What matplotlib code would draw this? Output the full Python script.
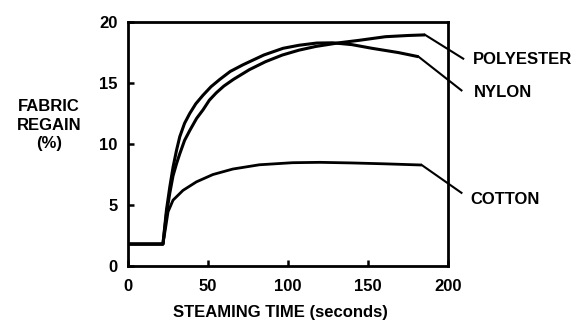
import matplotlib
matplotlib.use("Agg")
import matplotlib.pyplot as plt

plt.rcParams['font.family'] = ['Liberation Sans', 'DejaVu Sans']
plt.rcParams['font.size'] = 12
plt.rcParams['font.weight'] = 'bold'

# steaming time (s) and fabric regain (%)
polyester_t = [0, 22, 24.2, 26.3, 28.3, 30.5, 32.5, 35.5, 38.7, 43, 47, 51, 55.3, 60, 66, 76, 86,
               96.6, 107, 117.4, 131.9, 144.3, 160.9, 175, 185.7]
polyester = [1.8, 1.8, 4.3, 6.0, 7.4, 8.4, 9.2, 10.3, 11.1, 12.1, 12.8, 13.6, 14.2, 14.75, 15.3, 16.1, 16.75,
             17.3, 17.7, 18.0, 18.3, 18.5, 18.8, 18.9, 18.95]

nylon_t = [0, 22, 24.2, 26.3, 28.3, 30.5, 32.5, 35.5, 38.7, 42.5, 47, 52, 57.5, 64, 72, 85,
           97, 107, 118, 128, 140, 152.5, 169, 181.6]
nylon = [1.8, 1.8, 4.6, 6.5, 8.1, 9.5, 10.6, 11.7, 12.5, 13.3, 14.0, 14.7, 15.3, 15.95, 16.5, 17.3,
         17.85, 18.1, 18.28, 18.3, 18.15, 17.85, 17.5, 17.16]

cotton_t = [0, 22, 23.5, 25.2, 28.3, 34.5, 42.9, 53.2, 65.6, 82.2, 102.9, 120, 140, 160, 183.6]
cotton = [1.8, 1.8, 3.0, 4.45, 5.4, 6.2, 6.9, 7.5, 7.95, 8.3, 8.47, 8.5, 8.45, 8.38, 8.28]

labels = ["POLYESTER", "NYLON", "COTTON"]
# where each leader line ends, and where its label sits
leader_end_t = [209.5, 208.4, 208.4]
leader_end_y = [17.0, 14.4, 6.0]
label_t = [215.7, 216.3, 214.2]
label_y = [16.56, 13.83, 5.08]

fig = plt.figure(figsize=(5.74, 3.27), dpi=100)
ax = fig.add_axes([0.2225, 0.1865, 0.558, 0.746])

series = [(polyester_t, polyester, 2.2), (nylon_t, nylon, 2.2), (cotton_t, cotton, 2.0)]
for i, (t, y, lw) in enumerate(series):
    ax.plot(t, y, color='black', lw=lw, solid_capstyle='butt', solid_joinstyle='round')
    ax.plot([t[-1], leader_end_t[i]], [y[-1], leader_end_y[i]], color='black', lw=1.5, clip_on=False)
    ax.text(label_t[i], label_y[i], labels[i], ha='left', va='baseline', fontsize=12)

ax.set_xlim(0, 200)
ax.set_ylim(0, 20)
ax.set_xticks([0, 50, 100, 150, 200])
ax.set_yticks([0, 5, 10, 15, 20])
for s in ax.spines.values():
    s.set_linewidth(2)
ax.tick_params(direction='in', length=4, width=1.8, labelsize=12)
ax.tick_params(axis='x', pad=9)
ax.tick_params(axis='y', pad=7.5)

fig.text(280 / 574, 1 - 313 / 327, "STEAMING TIME (seconds)", ha='center', va='center', fontsize=12)
fig.text(49 / 574, 1 - 125 / 327, "FABRIC\nREGAIN\n(%)", ha='center', va='center',
         multialignment='center', fontsize=12, linespacing=1.3)

fig.savefig("out.png", dpi=100)
